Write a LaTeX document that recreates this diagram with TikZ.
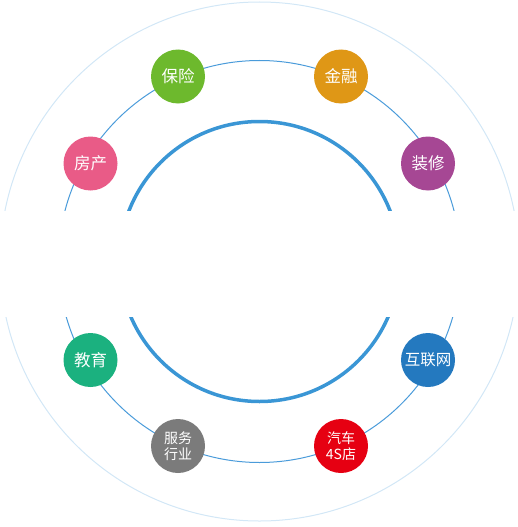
\documentclass[tikz,border=0pt]{standalone}
\usepackage{fontspec}
\newfontfamily\cjk{Noto Sans CJK SC}
\definecolor{outerc}{HTML}{D2E7F6}
\definecolor{midc}{HTML}{4A9BDA}
\definecolor{innerc}{HTML}{3A96D5}
\definecolor{cgreen}{HTML}{6DB92D}
\definecolor{corange}{HTML}{DF9716}
\definecolor{cpink}{HTML}{E95B87}
\definecolor{cpurple}{HTML}{A64794}
\definecolor{cteal}{HTML}{1BB17F}
\definecolor{cblue}{HTML}{2479BF}
\definecolor{cgray}{HTML}{7B7B7B}
\definecolor{cred}{HTML}{E60012}
\tikzset{
  badge/.style={circle, fill=#1, minimum size=54pt, inner sep=0pt, text=white, font=\cjk\fontsize{16.5pt}{18pt}\selectfont, align=center},
  smallbadge/.style={badge=#1, font=\cjk\fontsize{14pt}{16pt}\selectfont}
}
\begin{document}
\begin{tikzpicture}[x=1pt,y=-1pt]
\useasboundingbox (0,0) rectangle (518,527);
\coordinate (c) at (259.5,261.5);
\draw[outerc, line width=1pt] (c) circle (259.5);
\draw[midc, line width=1pt] (c) circle (201);
\draw[innerc, line width=3.5pt] (c) circle (140);
\fill[white] (-1,211) rectangle (519,317);
\node[badge=cgreen] (baoxian) at (178,76.5) {保险};
\node[badge=corange] (jinrong) at (341,76.5) {金融};
\node[badge=cpink] (fangchan) at (90.5,163.5) {房产};
\node[badge=cpurple] (zhuangxiu) at (428,163.5) {装修};
\node[badge=cteal] (jiaoyu) at (90.5,360) {教育};
\node[badge=cblue, font=\cjk\fontsize{15.5pt}{18pt}\selectfont] (hulianwang) at (428,360) {互联网};
\node[smallbadge=cgray] (fuwu) at (178,446) {服务\\行业};
\node[smallbadge=cred] (qiche) at (341,446) {汽车\\4S店};
\end{tikzpicture}
\end{document}
